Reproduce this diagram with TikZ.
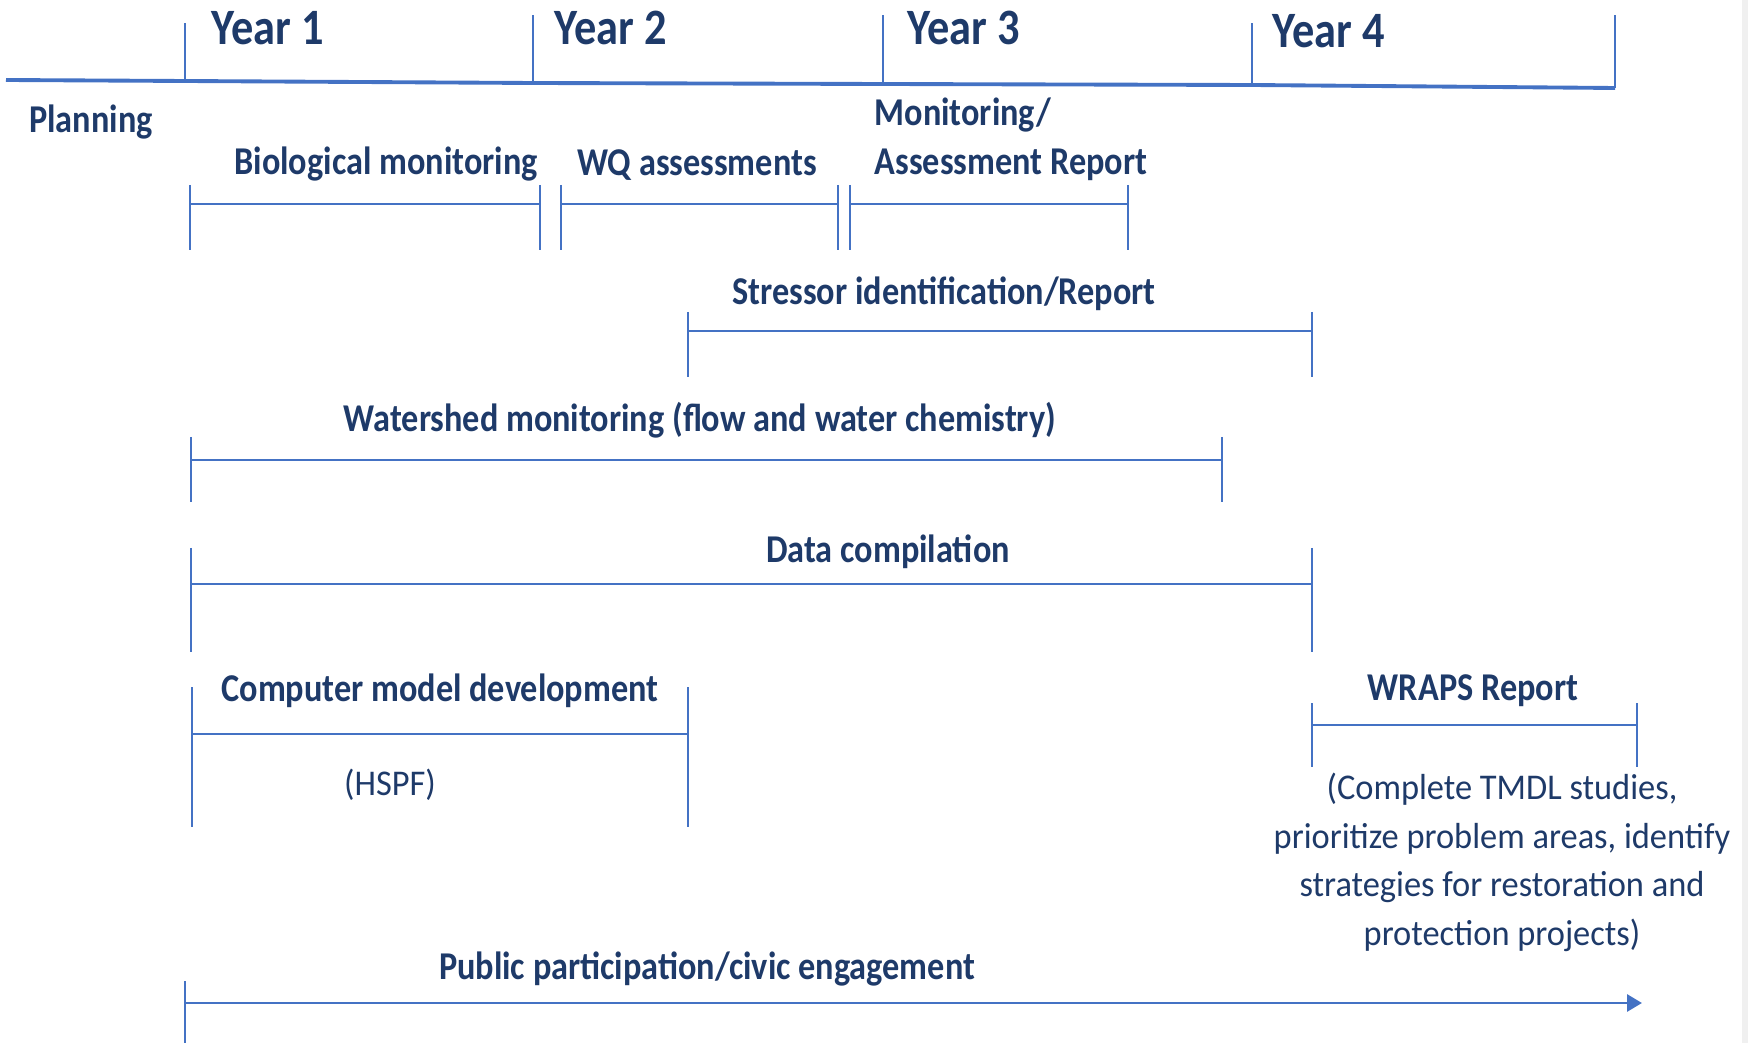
\documentclass[tikz,border=0pt]{standalone}
\usepackage{fontspec}
\setmainfont{Carlito}[FakeStretch=0.95]
\newfontfamily\lblfont{Carlito}[FakeStretch=0.87]
\usetikzlibrary{arrows.meta}

\definecolor{lineblue}{RGB}{68,114,196}
\definecolor{textblue}{RGB}{30,58,105}

\begin{document}
\begin{tikzpicture}[x=0.01cm,y=-0.01cm,
  axis/.style={draw=lineblue,line width=1.1pt},
  span/.style={draw=lineblue,line width=0.85pt},
  stub/.style={draw=lineblue,line width=0.55pt},
  yearlabel/.style={inner sep=0pt,anchor=base west,text=textblue,font=\lblfont\bfseries\fontsize{14.5}{17}\selectfont},
  tasklabel/.style={inner sep=0pt,anchor=base,text=textblue,font=\lblfont\bfseries\fontsize{11.2}{14.2}\selectfont},
  notelabel/.style={inner sep=0pt,anchor=base,align=center,text=textblue,font=\fontsize{10.3}{13.75}\selectfont}]
\useasboundingbox (0,0) rectangle (1748,1043);
\fill[black!6] (1742,0) rectangle (1748,1043);

% time axis
\coordinate (T0) at (6,80);
\coordinate (Y1) at (185,81);
\coordinate (Y2) at (533,83);
\coordinate (Y3) at (883,84);
\coordinate (Y4) at (1252,85);
\coordinate (Y5) at (1615,88);
\draw[axis] (T0) -- (Y1) -- (Y2) -- (Y3) -- (Y4) -- (Y5);
\draw[stub] (Y1) -- ++(0,-58);
\draw[stub] (Y2) -- ++(0,-68);
\draw[stub] (Y3) -- ++(0,-69);
\draw[stub] (Y4) -- ++(0,-62);
\draw[stub] (Y5) -- ++(0,-73);

\node[yearlabel] (year1) at (211,45) {Year 1};
\node[yearlabel] (year2) at (554,45) {Year 2};
\node[yearlabel] (year3) at (907,45) {Year 3};
\node[yearlabel] (year4) at (1272,48) {Year 4};

\node[tasklabel] (plan) at (91,133) {Planning};

% year 1-3 assessments
\node[tasklabel] (bio) at (386,175) {Biological monitoring};
\coordinate (bioL) at (190,204);
\coordinate (bioR) at (540,204);
\draw[span] (bioL) -- (bioR);
\draw[stub] (bioL) ++(0,-19) -- ++(0,65);
\draw[stub] (bioR) ++(0,-19) -- ++(0,65);

\node[tasklabel] (wq) at (697,176) {WQ assessments};
\coordinate (wqL) at (561,204);
\coordinate (wqR) at (838,204);
\draw[span] (wqL) -- (wqR);
\draw[stub] (wqL) ++(0,-19) -- ++(0,65);
\draw[stub] (wqR) ++(0,-19) -- ++(0,65);

\node[tasklabel,anchor=base west,align=left] (monrep) at (874,175) {Monitoring/\\Assessment Report};
\coordinate (monL) at (850,204);
\coordinate (monR) at (1128,204);
\draw[span] (monL) -- (monR);
\draw[stub] (monL) ++(0,-19) -- ++(0,65);
\draw[stub] (monR) ++(0,-19) -- ++(0,65);

\node[tasklabel] (stress) at (944,305) {Stressor identification/Report};
\coordinate (stressL) at (688,331);
\coordinate (stressR) at (1312,331);
\draw[span] (stressL) -- (stressR);
\draw[stub] (stressL) ++(0,-19) -- ++(0,65);
\draw[stub] (stressR) ++(0,-19) -- ++(0,65);

\node[tasklabel] (shed) at (700,432) {Watershed monitoring (flow and water chemistry)};
\coordinate (shedL) at (191,460);
\coordinate (shedR) at (1222,460);
\draw[span] (shedL) -- (shedR);
\draw[stub] (shedL) ++(0,-23) -- ++(0,65);
\draw[stub] (shedR) ++(0,-23) -- ++(0,65);

\node[tasklabel] (data) at (888,563) {Data compilation};
\coordinate (dataL) at (191,584);
\coordinate (dataR) at (1312,584);
\draw[span] (dataL) -- (dataR);
\draw[stub] (dataL) ++(0,-36) -- ++(0,104);
\draw[stub] (dataR) ++(0,-36) -- ++(0,104);

% model and report
\node[tasklabel] (model) at (440,701) {Computer model development};
\node[notelabel] (hspf) at (390,795) {(HSPF)};
\coordinate (modelL) at (192,734);
\coordinate (modelR) at (688,734);
\draw[span] (modelL) -- (modelR);
\draw[stub] (modelL) ++(0,-47) -- ++(0,140);
\draw[stub] (modelR) ++(0,-47) -- ++(0,140);

\node[tasklabel] (wraps) at (1473,700) {WRAPS Report};
\node[notelabel] (tmdl) at (1502,945) {(Complete TMDL studies,\\prioritize problem areas, identify\\strategies for restoration and\\protection projects)};
\coordinate (wrapsL) at (1312,725);
\coordinate (wrapsR) at (1637,725);
\draw[span] (wrapsL) -- (wrapsR);
\draw[stub] (wrapsL) ++(0,-22) -- ++(0,64);
\draw[stub] (wrapsR) ++(0,-22) -- ++(0,64);

% ongoing
\node[tasklabel] (public) at (707,979) {Public participation/civic engagement};
\coordinate (pubL) at (185,1003);
\coordinate (pubR) at (1642,1003);
\draw[span,-{Triangle[length=1.5mm,width=1.7mm]}] (pubL) -- (pubR);
\draw[stub] (pubL) ++(0,-22) -- ++(0,62);
\end{tikzpicture}
\end{document}
